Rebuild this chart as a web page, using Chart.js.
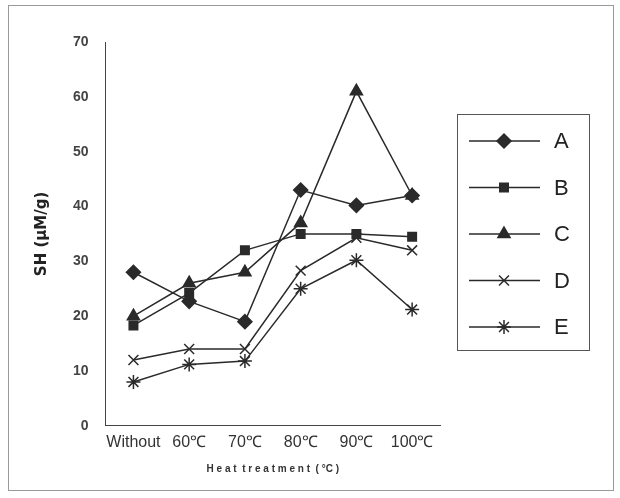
<!DOCTYPE html>
<html>
<head>
<meta charset="utf-8">
<script src="https://cdn.jsdelivr.net/npm/chart.js@4.4.1/dist/chart.umd.min.js"></script>
<style>
body{margin:0;background:#fff;}
#wrap{width:620px;height:498px;position:relative;}
</style>
</head>
<body>
<div id="wrap"><canvas id="chart" width="620" height="498"></canvas></div>
<script>
// categories + values
const categories = ["Without", "60\u2103", "70\u2103", "80\u2103", "90\u2103", "100\u2103"];
const seriesA = [28, 22.7, 19, 43, 40.2, 42];
const seriesB = [18.3, 24.2, 32, 35, 35, 34.5];
const seriesC = [20, 26, 28, 37, 61, 42];
const seriesD = [12, 14, 14, 28.3, 34.3, 32];
const seriesE = [8, 11.2, 11.8, 25, 30.2, 21.2];
const names = ["A", "B", "C", "D", "E"];
const yTicks = [0, 10, 20, 30, 40, 50, 60, 70];

const ink = "#2a2a2a";

function makeSet(label, data, style, r){
  return {
    label: label,
    data: data,
    borderColor: ink,
    backgroundColor: ink,
    pointBackgroundColor: ink,
    pointBorderColor: ink,
    pointStyle: style,
    pointRadius: r,
    pointBorderWidth: 1.5,
    borderWidth: 1.5,
    tension: 0,
    fill: false
  };
}

/* ======================
   LEGEND BOX + FRAME
====================== */
const boxLegend = {
  id: "boxLegend",
  beforeDraw(chart){
    const c = chart.ctx;
    c.save();
    c.fillStyle = "#fff";
    c.fillRect(0, 0, chart.width, chart.height);
    c.strokeStyle = "#9a9a9a";
    c.lineWidth = 1;
    c.strokeRect(8.5, 5.5, 605, 485);
    c.restore();
  },
  afterDraw(chart){
    const c = chart.ctx;
    const area = chart.chartArea;
    const left = area.right + 17, top = 114, w = 132, h = 236;
    c.save();
    c.strokeStyle = "#555";
    c.lineWidth = 1;
    c.strokeRect(left + 0.5, top + 0.5, w, h);
    chart.data.datasets.forEach((ds, i) => {
      const y = top + 27 + i * 46.5;
      c.strokeStyle = ink;
      c.lineWidth = 1.5;
      c.beginPath();
      c.moveTo(left + 12, y);
      c.lineTo(left + 83, y);
      c.stroke();
      c.fillStyle = ink;
      Chart.helpers.drawPoint(c, {
        pointStyle: ds.pointStyle,
        radius: ds.pointRadius,
        rotation: 0,
        borderWidth: 1.5
      }, left + 47, y);
      c.fillStyle = "#222";
      c.font = "22px 'Liberation Sans', Arial, sans-serif";
      c.textAlign = "left";
      c.textBaseline = "middle";
      c.fillText(ds.label, left + 97, y + 1);
    });
    c.restore();
  }
};

new Chart(document.getElementById("chart"), {
  type: "line",
  data: {
    labels: categories,
    datasets: [
      makeSet(names[0], seriesA, "rectRot", 7),
      makeSet(names[1], seriesB, "rect", 6),
      makeSet(names[2], seriesC, "triangle", 7),
      makeSet(names[3], seriesD, "crossRot", 7),
      makeSet(names[4], seriesE, "star", 7)
    ]
  },
  options: {
    responsive: false,
    animation: false,
    layout: { padding: { left: 29, right: 180, top: 42, bottom: 19 } },
    plugins: {
      legend: { display: false },
      tooltip: { enabled: false }
    },
    scales: {
      x: {
        offset: true,
        grid: { display: false, drawTicks: true, tickLength: 4, color: "#444" },
        border: { display: true, color: "#444", width: 1 },
        ticks: {
          color: "#333",
          font: { family: "'Liberation Sans', Arial, sans-serif", size: 16 },
          maxRotation: 0, autoSkip: false, padding: 3
        },
        title: {
          display: true,
          text: "H e a t  t r e a t m e n t  ( \u00b0C )",
          color: "#333",
          font: { family: "'Liberation Sans', Arial, sans-serif", size: 10, weight: "bold" },
          padding: { top: 8 }
        }
      },
      y: {
        min: 0, max: 70,
        afterBuildTicks(axis){ axis.ticks = yTicks.map(v => ({ value: v })); },
        grid: { display: false, drawTicks: true, tickLength: 5, color: "#444" },
        border: { display: true, color: "#444", width: 1 },
        ticks: {
          color: "#444",
          font: { family: "'Liberation Sans', Arial, sans-serif", size: 14, weight: "bold" },
          padding: 12
        },
        title: {
          display: true,
          text: "SH (\u03bcM/g)",
          color: "#222",
          font: { family: "'DejaVu Sans', sans-serif", size: 15, weight: "bold" },
          padding: { bottom: 10 }
        }
      }
    }
  },
  plugins: [boxLegend]
});
</script>
</body>
</html>
